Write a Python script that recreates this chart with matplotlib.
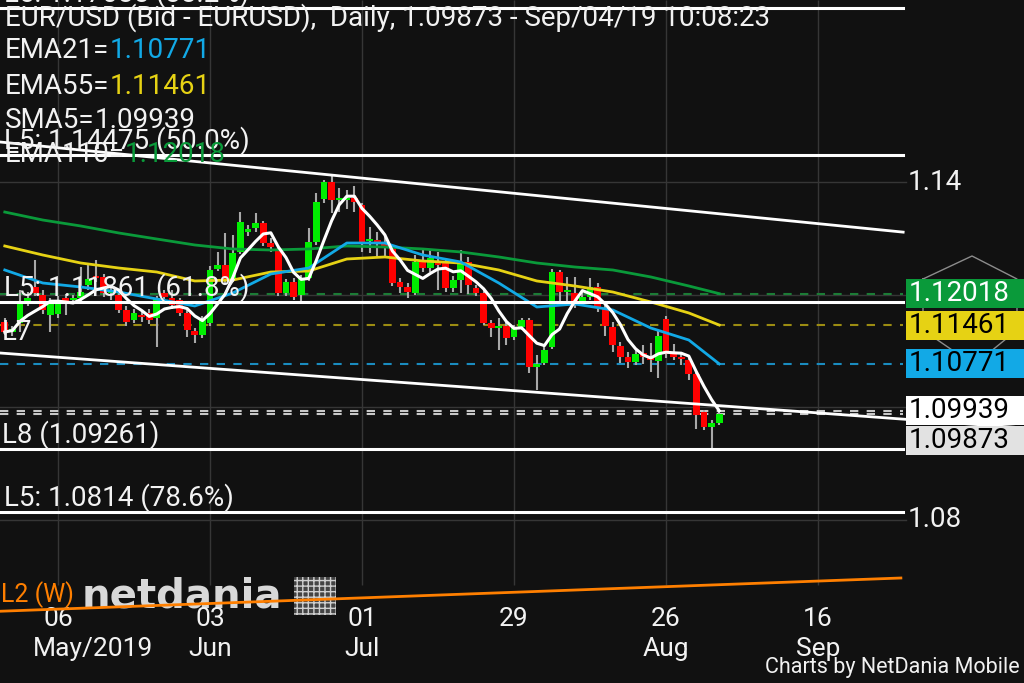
import numpy as np
import pandas as pd
import matplotlib
matplotlib.use("Agg")
import matplotlib.pyplot as plt
import matplotlib.transforms as mtransforms
from matplotlib.patches import Rectangle

plt.rcParams['font.family'] = ['Roboto', 'DejaVu Sans']

# ---- data (bar 0 = Mon 06 May 2019, last bar 87 = Wed 04 Sep 2019) ----
first_bar = -7
opens = [1.11515, 1.11337, 1.11497, 1.11852, 1.12136, 1.11994, 1.11639,
         1.11657, 1.11941, 1.11905, 1.11941, 1.12172, 1.12331, 1.12314, 1.12030, 1.11994,
         1.11728, 1.11550, 1.11639, 1.11675, 1.11586, 1.12030, 1.11941, 1.11905, 1.11675,
         1.11355, 1.11284, 1.11497, 1.12456, 1.12527, 1.12260, 1.12757, 1.13112, 1.13183,
         1.13272, 1.12917, 1.12793, 1.12030, 1.12225, 1.11994, 1.12296, 1.12935, 1.13698,
         1.14000, 1.13680, 1.13680, 1.13716, 1.13592, 1.12953, 1.12970, 1.12899, 1.12828,
         1.12225, 1.12136, 1.12030, 1.12580, 1.12473, 1.12580, 1.12580, 1.12118, 1.12260,
         1.12580, 1.12118, 1.12030, 1.11497, 1.11408, 1.11444, 1.11248, 1.11426, 1.11550,
         1.10716, 1.10787, 1.11071, 1.12402, 1.12047, 1.12030, 1.11870, 1.11959, 1.12136,
         1.11763, 1.11426, 1.11089, 1.10893, 1.10805, 1.10964, 1.10893, 1.10822, 1.11568,
         1.10964, 1.10893, 1.10840, 1.10592, 1.09917, 1.09651, 1.09722]
highs = [1.11586, 1.11444, 1.12083, 1.12047, 1.12615, 1.12083, 1.11941,
         1.11976, 1.12012, 1.11994, 1.12491, 1.12527, 1.12615, 1.12367, 1.12154, 1.12047,
         1.11799, 1.11746, 1.11710, 1.11746, 1.11976, 1.12083, 1.12083, 1.11941, 1.11728,
         1.11408, 1.11621, 1.12509, 1.12757, 1.13095, 1.13059, 1.13467, 1.13237, 1.13450,
         1.13308, 1.13006, 1.12864, 1.12278, 1.12296, 1.12349, 1.13183, 1.13805, 1.14036,
         1.14124, 1.13893, 1.13858, 1.13929, 1.13627, 1.13201, 1.13112, 1.13041, 1.12882,
         1.12296, 1.12207, 1.12704, 1.12793, 1.12793, 1.12757, 1.12651, 1.12331, 1.12793,
         1.12669, 1.12172, 1.12083, 1.11550, 1.11586, 1.11515, 1.11461, 1.11586, 1.11586,
         1.10929, 1.11089, 1.12456, 1.12438, 1.12314, 1.12314, 1.12083, 1.12296, 1.12207,
         1.11834, 1.11515, 1.11160, 1.10982, 1.11053, 1.11106, 1.11142, 1.11373, 1.11621,
         1.11124, 1.10964, 1.10876, 1.10627, 1.09953, 1.09775, 1.09953]
lows = [1.11284, 1.11266, 1.11337, 1.11799, 1.11976, 1.11657, 1.11337,
        1.11586, 1.11639, 1.11852, 1.11870, 1.12083, 1.12225, 1.11959, 1.11905, 1.11675,
        1.11444, 1.11497, 1.11515, 1.11479, 1.11071, 1.11905, 1.11746, 1.11621, 1.11248,
        1.11142, 1.11231, 1.11444, 1.12420, 1.12207, 1.12225, 1.12722, 1.13041, 1.13112,
        1.12864, 1.12757, 1.11976, 1.11976, 1.11905, 1.11852, 1.12243, 1.12882, 1.13627,
        1.13450, 1.13467, 1.13521, 1.13467, 1.12757, 1.12740, 1.12669, 1.12686, 1.12154,
        1.12030, 1.11941, 1.11994, 1.12402, 1.12402, 1.12083, 1.12047, 1.12047, 1.12030,
        1.12012, 1.11976, 1.11461, 1.11248, 1.11018, 1.11106, 1.11195, 1.11373, 1.10609,
        1.10308, 1.10751, 1.11035, 1.11817, 1.11817, 1.11763, 1.11817, 1.11905, 1.11692,
        1.11266, 1.10982, 1.10787, 1.10698, 1.10751, 1.10769, 1.10627, 1.10521, 1.10876,
        1.10840, 1.10751, 1.10485, 1.09615, 1.09598, 1.09260, 1.09686]
closes = [1.11337, 1.11390, 1.11852, 1.11941, 1.12030, 1.11728, 1.11870,
          1.11852, 1.11870, 1.11941, 1.12047, 1.12278, 1.12296, 1.12030, 1.12083, 1.11728,
          1.11515, 1.11675, 1.11603, 1.11550, 1.11941, 1.11959, 1.11817, 1.11675, 1.11373,
          1.11284, 1.11550, 1.12438, 1.12527, 1.12260, 1.12740, 1.13290, 1.13166, 1.13272,
          1.12917, 1.12846, 1.12030, 1.12225, 1.11959, 1.12296, 1.12935, 1.13645, 1.14000,
          1.13680, 1.13716, 1.13698, 1.13645, 1.12917, 1.12988, 1.12935, 1.12828, 1.12207,
          1.12136, 1.12047, 1.12580, 1.12473, 1.12651, 1.12527, 1.12118, 1.12260, 1.12562,
          1.12172, 1.12030, 1.11497, 1.11408, 1.11444, 1.11231, 1.11426, 1.11550, 1.10716,
          1.10769, 1.11018, 1.12402, 1.12047, 1.12083, 1.11870, 1.11959, 1.12136, 1.11763,
          1.11444, 1.11106, 1.10893, 1.10805, 1.10947, 1.10893, 1.10840, 1.11266, 1.10947,
          1.10893, 1.10858, 1.10585, 1.09864, 1.09651, 1.09722, 1.09873]

# moving averages every 5 bars
ma_bars = [-7, -2, 3, 8, 13, 18, 23, 28, 33, 38, 43, 48, 53, 58, 63, 68, 73, 78, 83, 87]
ema21 = [1.12438, 1.12207, 1.12136, 1.12047, 1.11923, 1.11799, 1.12030, 1.12367, 1.12473, 1.12917,
         1.12917, 1.12704, 1.12580, 1.12207, 1.11781, 1.11834, 1.11728, 1.11408, 1.11195, 1.10771]
ema55 = [1.12864, 1.12704, 1.12562, 1.12473, 1.12402, 1.12243, 1.12260, 1.12402, 1.12420, 1.12633,
         1.12669, 1.12598, 1.12562, 1.12438, 1.12243, 1.12154, 1.12047, 1.11870, 1.11675, 1.11461]
ema110 = [1.13467, 1.13325, 1.13219, 1.13095, 1.12988, 1.12882, 1.12811, 1.12793, 1.12811, 1.12864,
          1.12846, 1.12811, 1.12758, 1.12669, 1.12562, 1.12491, 1.12438, 1.12314, 1.12154, 1.12018]

tick_bars = [0, 20, 40, 60, 80, 100]
tick_days = ["06", "03", "01", "29", "26", "16"]
tick_months = ["May/2019", "Jun", "Jul", "", "Aug", "Sep"]
price_ticks = [1.08, 1.10, 1.12, 1.14]
price_tick_labels = {1.08: "1.08", 1.14: "1.14"}

fib_levels = [1.17085, 1.14475, 1.11861, 1.0814]
fib_labels = ["L5: 1.17085 (38.2%)", "L5: 1.14475 (50.0%)", "L5: 1.11861 (61.8%)", "L5: 1.0814 (78.6%)"]
l8_level = 1.09261

channel_top_x, channel_top_y = [-7.6, 111.2], [1.1471, 1.1311]
channel_bot_x, channel_bot_y = [-7.6, 127.1], [1.10964, 1.09633]
weekly_x, weekly_y = [-7.6, 110.9], [1.0638, 1.0697]

# ---- style ----
BG = '#111111'
WHITE = '#f2f2f2'
C_UP, C_DN, C_WICK = '#00ee00', '#ff0000', '#a8a8a8'
C21, C55, C110 = '#12a9e6', '#e6d214', '#0a9a3a'
ORANGE = '#ff7f00'
W, H = 1024, 683


def fx(px):
    return px / W


def fy(py):
    return 1 - py / H


fig = plt.figure(figsize=(W / 100, H / 100), dpi=100, facecolor=BG)
ax = fig.add_axes([0, 0, 1, 1])
ax.set_facecolor(BG)
ax.set_xlim(-7.63, 127.1)
ax.set_ylim(1.05106, 1.17231)
ax.axis('off')
ax_x_data_y = mtransforms.blended_transform_factory(ax.transAxes, ax.transData)
data_x_ax_y = mtransforms.blended_transform_factory(ax.transData, ax.transAxes)
line_end = fx(903)

# grid
ax.vlines(tick_bars, 1.0685, 1.1723, color='#363636', lw=1, zorder=0)
for p in price_ticks:
    ax.plot([0, fx(906)], [p, p], transform=ax_x_data_y, color='#363636', lw=1, zorder=0)
    if p in price_tick_labels:
        ax.text(fx(908), p, price_tick_labels[p], transform=ax_x_data_y, va='center',
                ha='left', fontsize=20, color=WHITE)

# watermark
ax.text(fx(182), fy(597), "netdania", transform=ax.transAxes, ha='center', va='center',
        fontsize=29, fontweight='bold', color='#d8d8d8', family=['DejaVu Sans'], zorder=1)
ax.add_patch(Rectangle((fx(294), fy(615)), fx(42), 38 / H, transform=ax.transAxes,
                       facecolor='#444444', edgecolor='#cfcfcf', hatch='+++', lw=0, zorder=1))

sma5 = pd.Series(closes).rolling(5, min_periods=1).mean()
bars = np.arange(first_bar, first_bar + len(closes))

# price lines for current values
price_lines = [(ema110[-1], '#1c7c36'), (ema55[-1], '#9c8c12'), (ema21[-1], '#1a8cc0'),
               (sma5.iloc[-1], '#c8c8c8'), (closes[-1], '#c8c8c8')]
for p, c in price_lines:
    ax.plot([0, line_end], [p, p], transform=ax_x_data_y, color=c, lw=1.5,
            ls=(0, (4, 4)), zorder=2)

# candles
o, h, l, c = map(np.array, (opens, highs, lows, closes))
up = c >= o
ax.vlines(bars, l, h, color=C_WICK, lw=1.5, zorder=3)
body_lo = np.minimum(o, c)
body_h = np.maximum(np.abs(c - o), 0.0003)
ax.bar(bars[up], body_h[up], bottom=body_lo[up], width=0.88, color=C_UP, zorder=4)
ax.bar(bars[~up], body_h[~up], bottom=body_lo[~up], width=0.88, color=C_DN, zorder=4)

# moving averages
ax.plot(ma_bars, ema110, color=C110, lw=2, zorder=5)
ax.plot(ma_bars, ema55, color=C55, lw=2, zorder=5)
ax.plot(ma_bars, ema21, color=C21, lw=2, zorder=5)
ax.plot(bars, sma5, color='white', lw=2.2, zorder=6)

# drawing tools
for p in fib_levels + [l8_level]:
    ax.plot([0, line_end], [p, p], transform=ax_x_data_y, color='white', lw=2.2, zorder=7)
ax.plot(channel_top_x, channel_top_y, color='white', lw=2, zorder=7)
ax.plot(channel_bot_x, channel_bot_y, color='white', lw=2, zorder=7)
ax.plot(weekly_x, weekly_y, color=ORANGE, lw=2, zorder=7)

for p, txt in zip(fib_levels, fib_labels):
    ax.text(fx(4), p, txt, transform=ax_x_data_y, va='bottom', ha='left', fontsize=20,
            color=WHITE, zorder=8)
ax.text(fx(2), l8_level, f"L8 ({l8_level:.5f})", transform=ax_x_data_y, va='bottom',
        ha='left', fontsize=20, color=WHITE, zorder=8)
ax.annotate("L7", xy=(fx(2), channel_bot_y[0]), xycoords=ax_x_data_y, xytext=(0, 7),
            textcoords='offset pixels', va='bottom', ha='left', fontsize=20, color=WHITE, zorder=8)
ax.annotate("L2 (W)", xy=(fx(1), weekly_y[0]), xycoords=ax_x_data_y, xytext=(0, 3),
            textcoords='offset pixels', va='bottom', ha='left', fontsize=18, color=ORANGE, zorder=8)

# header
ax.text(fx(5), fy(18), f"EUR/USD (Bid - EURUSD),  Daily, {closes[-1]:.5f} - Sep/04/19 10:08:23",
        transform=ax.transAxes, va='center', ha='left', fontsize=20, color=WHITE, zorder=9)
legend_rows = [("EMA21=", ema21[-1], C21, 51), ("EMA55=", ema55[-1], C55, 86),
               ("SMA5=", sma5.iloc[-1], WHITE, 121), ("EMA110=", ema110[-1], C110, 155)]
for name, val, col, ypx in legend_rows:
    t = ax.text(fx(5), fy(ypx), name, transform=ax.transAxes, va='center', ha='left',
                fontsize=20, color=WHITE, zorder=9)
    ax.annotate(f"{val:.5f}", xy=(1, 0), xycoords=t, va='bottom', ha='left',
                fontsize=20, color=col, zorder=9)

# decorative hexagon behind the value labels
hex_px = [(923, 279), (972, 256), (1017, 279), (1017, 330), (990, 352), (955, 352), (923, 330), (923, 279)]
ax.plot([fx(px) for px, _ in hex_px], [fy(py) for _, py in hex_px], transform=ax.transAxes,
        color='#8c8c8c', lw=1, zorder=9)

# value labels on the price axis
box_h = 29 * (1.17231 - 1.05106) / H
value_labels = [(ema110[-1], C110, 'white'), (ema55[-1], C55, 'black'), (ema21[-1], C21, 'black'),
                (sma5.iloc[-1], 'white', 'black'), (closes[-1], '#e2e2e2', 'black')]
prev = None
for p, fc, tc in sorted(value_labels, key=lambda v: -v[0]):
    centre = p if prev is None else min(p, prev - box_h * 1.04)
    prev = centre
    ax.add_patch(Rectangle((fx(906), centre - box_h / 2), 1 - fx(906), box_h,
                           transform=ax_x_data_y, facecolor=fc, edgecolor='none', zorder=10))
    ax.text(fx(909), centre, f"{p:.5f}", transform=ax_x_data_y, va='center', ha='left',
            fontsize=20, color=tc, zorder=11)

# date axis (first month label is pushed right so it stays inside the chart)
for b, d, m in zip(tick_bars, tick_days, tick_months):
    ax.text(b, fy(619), d, transform=data_x_ax_y, ha='center', va='center', fontsize=19, color=WHITE)
    if m and b == tick_bars[0]:
        ax.text(fx(33), fy(649), m, transform=ax.transAxes, ha='left', va='center', fontsize=19, color=WHITE)
    elif m:
        ax.text(b, fy(649), m, transform=data_x_ax_y, ha='center', va='center', fontsize=19, color=WHITE)

ax.text(fx(1020), fy(667), "Charts by NetDania Mobile", transform=ax.transAxes, ha='right',
        va='center', fontsize=15.5, color=WHITE)

fig.savefig("out.png", dpi=100, facecolor=BG)
